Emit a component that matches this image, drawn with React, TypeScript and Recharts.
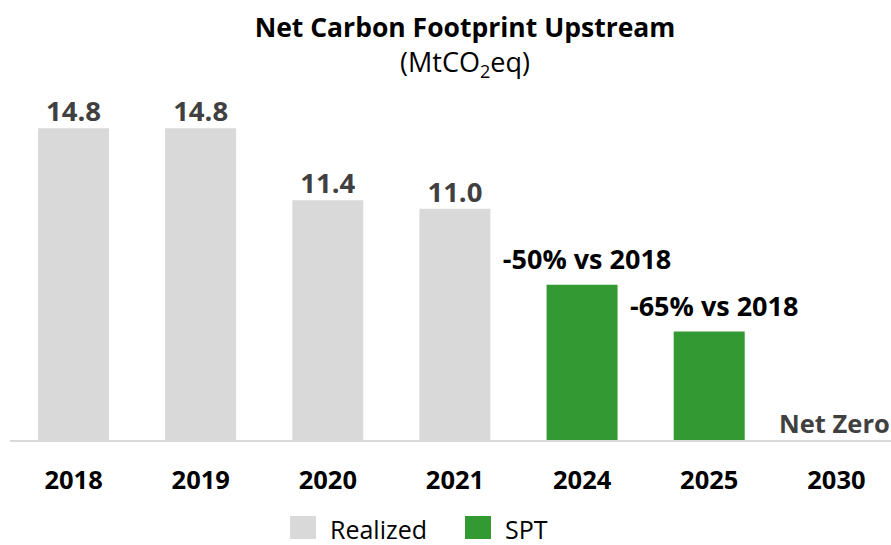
import React from "react";
import { BarChart, Bar, XAxis, YAxis, Cell, LabelList, Legend, ReferenceDot } from "recharts";

const years = ["2018", "2019", "2020", "2021", "2024", "2025", "2030"];
const values = [14.8, 14.8, 11.4, 11.0, 7.4, 5.18, 0];
const kinds = ["Realized", "Realized", "Realized", "Realized", "SPT", "SPT", "SPT"];
const labels = ["14.8", "14.8", "11.4", "11.0", "-50% vs 2018", "-65% vs 2018", "Net Zero"];

const FONT = "'Open Sans', Lato, sans-serif";
const COLORS: Record<string, string> = { Realized: "#d9d9d9", SPT: "#339933" };

const rows = years.map((year, i) => ({ year, value: values[i], kind: kinds[i], label: labels[i] }));
const zeroRows = rows.filter((r) => r.value === 0);

const renderLabel = (props: any) => {
  const { x, y, width, index } = props;
  const row = rows[index];
  if (!row || row.value === 0) return null;
  const cx = x + width / 2;
  if (row.kind === "Realized") {
    return (
      <text x={cx} y={y - 7} textAnchor="middle" fill="#404040" fontSize={27.5} fontWeight={700} fontFamily={FONT}>
        {row.label}
      </text>
    );
  }
  return (
    <text x={cx + 5} y={y - 16} textAnchor="middle" fill="#000" fontSize={27} fontWeight={700} fontFamily={FONT}>
      {row.label}
    </text>
  );
};

const renderLegend = () => (
  <div style={{ position: "relative", height: 44, fontFamily: FONT, fontSize: 25, lineHeight: "26px", color: "#000" }}>
    <span style={{ position: "absolute", left: 290, top: 15, width: 26, height: 23, background: COLORS.Realized }} />
    <span style={{ position: "absolute", left: 330, top: 15 }}>Realized</span>
    <span style={{ position: "absolute", left: 465, top: 15, width: 26, height: 23, background: COLORS.SPT }} />
    <span style={{ position: "absolute", left: 505, top: 15 }}>SPT</span>
  </div>
);

export default function App() {
  return (
    <div style={{ position: "absolute", left: 0, top: 0, width: 891, height: 545, overflow: "hidden", background: "#fff" }}>
      <BarChart width={900} height={545} data={rows} margin={{ top: 103, right: 0, bottom: 0, left: 10 }} barSize={71}>
        <XAxis
          dataKey="year"
          axisLine={{ stroke: "#d9d9d9", strokeWidth: 2 }}
          tickLine={false}
          height={60}
          interval={0}
          tick={{ fontSize: 25.5, fontWeight: 700, fill: "#000", fontFamily: FONT }}
          dy={22}
        />
        <YAxis hide domain={[0, 16]} />
        <Bar dataKey="value" isAnimationActive={false}>
          {rows.map((r) => (
            <Cell key={r.year} fill={COLORS[r.kind]} />
          ))}
          <LabelList dataKey="label" content={renderLabel} />
        </Bar>
        {zeroRows.map((r) => (
          <ReferenceDot
            key={r.year}
            x={r.year}
            y={r.value}
            r={0}
            fill="none"
            stroke="none"
            label={{ value: r.label, position: "top", offset: 8, dx: -2, fill: "#404040", fontSize: 25.5, fontWeight: 700, fontFamily: FONT }}
          />
        ))}
        <Legend verticalAlign="bottom" height={44} wrapperStyle={{ left: 0, width: 891 }} content={renderLegend} />
      </BarChart>
      <svg width={891} height={90} style={{ position: "absolute", left: 0, top: 0 }}>
        <text x={465} y={37} textAnchor="middle" fontSize={26.5} fontWeight={700} fontFamily={FONT} fill="#000">
          Net Carbon Footprint Upstream
        </text>
        <text x={465} y={72} textAnchor="middle" fontSize={27} fontFamily={FONT} fill="#000">
          (MtCO<tspan fontSize={18} dy={6}>2</tspan>
          <tspan dy={-6}>eq)</tspan>
        </text>
      </svg>
    </div>
  );
}
